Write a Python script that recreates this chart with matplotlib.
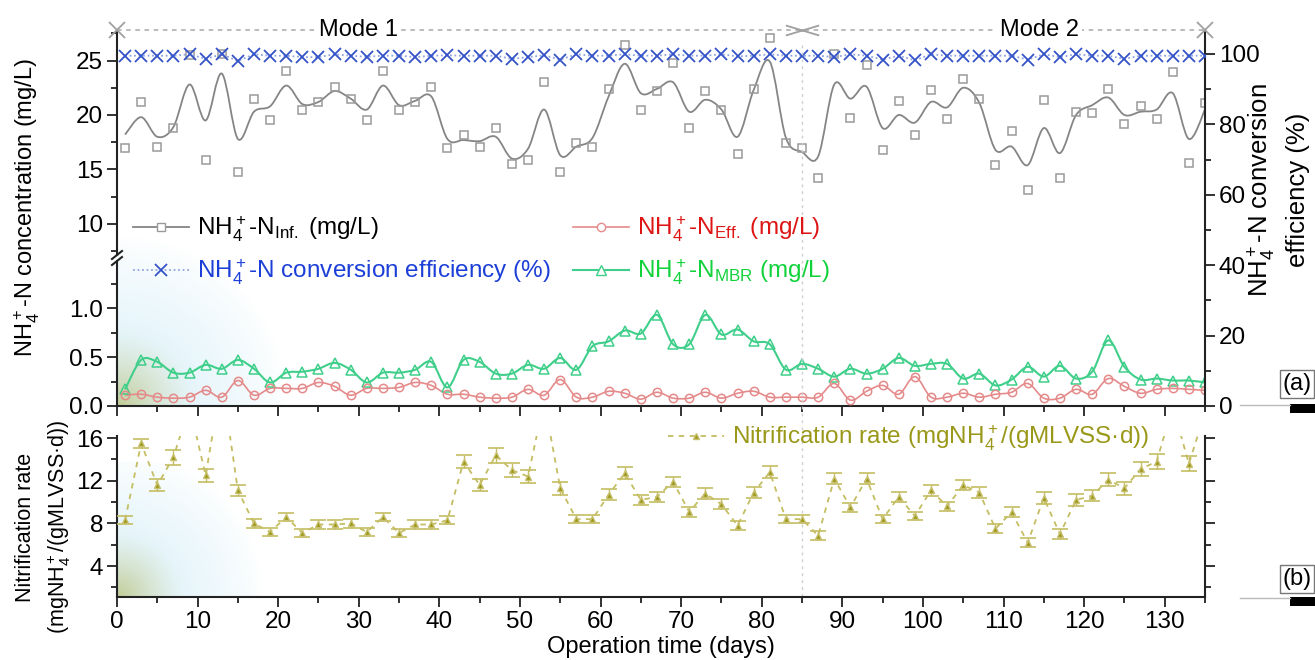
import numpy as np
import matplotlib
matplotlib.use("Agg")
import matplotlib.pyplot as plt
import matplotlib.transforms as mtransforms
from matplotlib.path import Path
from matplotlib.patches import PathPatch, Rectangle
from matplotlib.lines import Line2D
from matplotlib.ticker import MultipleLocator, FormatStrFormatter

plt.rcParams["font.family"] = ["Liberation Sans", "DejaVu Sans"]
plt.rcParams["mathtext.fontset"] = "custom"
plt.rcParams["mathtext.rm"] = "Liberation Sans"
plt.rcParams["mathtext.it"] = "Liberation Sans:italic"
plt.rcParams["mathtext.bf"] = "Liberation Sans:bold"
plt.rcParams["mathtext.default"] = "regular"

# ---- data, one sample every 2 days ----
days = list(range(1, 136, 2))

inf_points = [17.0, 21.2, 17.1, 18.8, 25.5, 15.9, 25.6, 14.8, 21.5, 19.5,
              24.0, 20.5, 21.2, 22.6, 21.5, 19.5, 24.0, 20.5, 21.2, 22.6,
              17.0, 18.2, 17.1, 18.8, 15.5, 15.9, 23.0, 14.8, 17.4, 17.1,
              22.4, 26.4, 20.5, 22.2, 24.8, 18.8, 22.2, 20.5, 16.4, 22.4,
              27.1, 17.4, 17.0, 14.2, 25.6, 19.7, 24.6, 16.8, 21.3, 18.2,
              22.3, 19.6, 23.3, 21.5, 15.4, 18.5, 13.1, 21.4, 14.2, 20.3,
              20.2, 22.4, 19.2, 20.8, 19.6, 23.9, 15.6, 21.1]

inf_fit = [18.2, 19.8, 18.0, 18.9, 22.8, 19.5, 23.8, 17.8, 20.3, 20.8,
           22.7, 21.0, 21.2, 22.2, 21.5, 20.5, 22.7, 20.9, 21.3, 21.7,
           17.8, 17.7, 17.6, 18.0, 16.0, 16.9, 20.5, 16.3, 17.1, 17.9,
           21.7, 24.7, 22.0, 22.4, 23.0, 20.3, 21.4, 20.5, 18.0, 22.3,
           24.9, 17.9, 16.6, 16.2, 22.8, 21.5, 22.6, 18.8, 20.0, 19.3,
           21.2, 20.7, 22.5, 21.1, 16.8, 17.1, 15.4, 18.8, 16.5, 20.0,
           20.9, 21.6, 20.0, 20.3, 20.5, 22.0, 17.8, 20.5]

conv_eff = [99.5, 99.5, 99.5, 99.5, 99.9, 98.6, 99.9, 98.0, 99.9, 99.5,
            99.5, 99.1, 99.1, 99.9, 99.5, 99.2, 99.5, 99.5, 99.1, 99.5,
            99.6, 99.5, 99.5, 99.5, 98.6, 99.1, 99.6, 98.4, 99.9, 99.5,
            99.5, 99.9, 99.5, 99.5, 99.9, 99.5, 99.5, 99.9, 99.3, 99.5,
            99.9, 99.5, 99.5, 99.5, 99.1, 99.9, 99.5, 98.4, 99.5, 98.2,
            99.9, 99.5, 99.5, 99.5, 99.5, 99.5, 98.4, 99.9, 99.1, 99.9,
            99.5, 99.5, 98.6, 99.5, 99.5, 99.5, 99.5, 99.5]

eff_points = [0.11, 0.12, 0.09, 0.08, 0.09, 0.16, 0.09, 0.26, 0.11, 0.18,
              0.18, 0.18, 0.24, 0.20, 0.11, 0.18, 0.18, 0.19, 0.24, 0.21,
              0.12, 0.12, 0.09, 0.08, 0.09, 0.17, 0.11, 0.27, 0.09, 0.09,
              0.15, 0.13, 0.07, 0.14, 0.08, 0.08, 0.14, 0.08, 0.13, 0.15,
              0.09, 0.09, 0.09, 0.09, 0.23, 0.06, 0.15, 0.21, 0.12, 0.30,
              0.09, 0.09, 0.13, 0.09, 0.12, 0.14, 0.23, 0.08, 0.08, 0.17,
              0.12, 0.28, 0.20, 0.13, 0.17, 0.18, 0.17, 0.16]

mbr_points = [0.17, 0.47, 0.45, 0.34, 0.34, 0.42, 0.38, 0.47, 0.38, 0.24,
              0.34, 0.35, 0.38, 0.44, 0.37, 0.24, 0.34, 0.34, 0.37, 0.45,
              0.19, 0.47, 0.45, 0.33, 0.33, 0.42, 0.38, 0.49, 0.37, 0.61,
              0.66, 0.77, 0.74, 0.93, 0.63, 0.63, 0.93, 0.73, 0.78, 0.66,
              0.63, 0.37, 0.43, 0.38, 0.30, 0.38, 0.33, 0.38, 0.49, 0.41,
              0.43, 0.43, 0.28, 0.33, 0.21, 0.27, 0.40, 0.30, 0.41, 0.28,
              0.35, 0.67, 0.40, 0.27, 0.28, 0.26, 0.26, 0.24]

nitr_rate = [8.3, 15.5, 11.6, 14.2, 19.0, 12.5, 21.5, 11.1, 8.0, 7.2,
             8.6, 7.1, 7.9, 7.9, 8.0, 7.2, 8.6, 7.1, 7.9, 7.9,
             8.3, 13.8, 11.6, 14.4, 13.0, 12.4, 19.5, 11.3, 8.4, 8.4,
             10.7, 12.7, 10.2, 10.5, 11.9, 9.1, 10.8, 9.8, 7.8, 10.9,
             12.8, 8.4, 8.4, 6.85, 12.2, 9.5, 12.2, 8.4, 10.5, 8.7,
             11.1, 9.6, 11.6, 10.9, 7.5, 9.05, 6.2, 10.4, 7.0, 10.2,
             10.6, 12.1, 11.3, 13.1, 13.8, 19.0, 13.6, 18.4]

nitr_err = [0.4, 0.4, 0.6, 0.7, 0.6, 0.63, 0.6, 0.55, 0.4, 0.4,
            0.4, 0.4, 0.4, 0.4, 0.4, 0.4, 0.4, 0.4, 0.4, 0.4,
            0.4, 0.63, 0.55, 0.7, 0.63, 0.63, 0.6, 0.6, 0.4, 0.4,
            0.5, 0.55, 0.45, 0.45, 0.5, 0.45, 0.5, 0.45, 0.4, 0.5,
            0.55, 0.4, 0.4, 0.4, 0.5, 0.45, 0.5, 0.4, 0.45, 0.4,
            0.5, 0.45, 0.5, 0.5, 0.4, 0.45, 0.4, 0.55, 0.45, 0.52,
            0.5, 0.63, 0.63, 0.63, 0.7, 0.7, 0.7, 0.7]

mode_edges = [0, 85, 135]
mode_labels = ["Mode 1", "Mode 2"]
mode_label_x = [30, 114.5]

# ---- figure in pixel units ----
W, H = 1315, 660
fig = plt.figure(figsize=(W / 100, H / 100), dpi=100)
px = mtransforms.Affine2D().scale(1 / W, -1 / H).translate(0, 1) + fig.transFigure


def box(l, t, r, b):
    return [l / W, 1 - b / H, (r - l) / W, (b - t) / H]


XL, XR = 117, 1205
ax_up = fig.add_axes(box(XL, 30, XR, 255))
ax_lo = fig.add_axes(box(XL, 261, XR, 406))
ax_r = fig.add_axes(box(XL, 30, XR, 406))
ax_b = fig.add_axes(box(XL, 436, XR, 597))

C_SPINE = "#222222"
RED = "#e58a8a"
GREEN = "#3fcf8a"
BLUE = "#3553c8"
BLUE_L = "#8fa3e0"
OLIVE = "#9a9818"
OLIVE_L = "#c4bd62"

for a in (ax_up, ax_lo, ax_r, ax_b):
    a.set_facecolor("none")
    a.set_xlim(0, 135)
    for s in a.spines.values():
        s.set_visible(False)
        s.set_linewidth(1.5)
        s.set_color(C_SPINE)
    a.tick_params(which="both", direction="out", width=1.3, color=C_SPINE,
                  labelsize=17.5, pad=3)
    a.tick_params(which="major", length=7)
    a.tick_params(which="minor", length=4)

# ---- background glows in the lower-left corners ----
def glow(wpx, hpx, radius):
    yy, xx = np.mgrid[0:hpx, 0:wpx]
    d = np.hypot(xx, (hpx - 1 - yy)) / radius
    t = np.clip(d / 0.45, 0, 1)[..., None]
    c0 = np.array([0.72, 0.77, 0.52])
    c1 = np.array([0.82, 0.93, 0.97])
    rgb = c0 * (1 - t) + c1 * t
    alpha = np.clip(1 - d, 0, 1) ** 0.8 * 0.85
    return np.dstack([rgb, alpha])

fig.figimage(glow(175, 175, 170), xo=XL + 1, yo=H - 406, zorder=-1)
fig.figimage(glow(155, 135, 145), xo=XL + 1, yo=H - 597, zorder=-1)

# ---- smooth line helper (Catmull-Rom drawn as Bezier path) ----
def smooth_line(ax, x, y, **kw):
    x = np.asarray(x, float)
    y = np.asarray(y, float)
    n = len(x)
    verts = [(x[0], y[0])]
    codes = [Path.MOVETO]
    for i in range(1, n):
        p0 = np.array([x[max(i - 2, 0)], y[max(i - 2, 0)]])
        p1 = np.array([x[i - 1], y[i - 1]])
        p2 = np.array([x[i], y[i]])
        p3 = np.array([x[min(i + 1, n - 1)], y[min(i + 1, n - 1)]])
        verts += [tuple(p1 + (p2 - p0) / 6), tuple(p2 - (p3 - p1) / 6), tuple(p2)]
        codes += [Path.CURVE4] * 3
    ax.add_patch(PathPatch(Path(verts, codes), fill=False, **kw))

# ---- upper part of top panel ----
ax_up.set_ylim(7.15, 27.8)
ax_up.spines["left"].set_visible(True)
ax_up.yaxis.set_major_locator(MultipleLocator(5))
ax_up.yaxis.set_minor_locator(MultipleLocator(2.5))
ax_up.set_xticks([])
smooth_line(ax_up, days, inf_fit, edgecolor="#858585", lw=1.3, zorder=3)
ax_up.plot(days, inf_points, ls="none", marker="s", ms=5.5, mfc="none",
           mec="#9a9a9a", mew=1.1, zorder=4)

# ---- lower part of top panel ----
ax_lo.set_ylim(0, 1.48)
ax_lo.spines["left"].set_visible(True)
ax_lo.spines["bottom"].set_visible(True)
ax_lo.yaxis.set_major_locator(MultipleLocator(0.5))
ax_lo.yaxis.set_minor_locator(MultipleLocator(0.25))
ax_lo.yaxis.set_major_formatter(FormatStrFormatter("%.1f"))
ax_lo.xaxis.set_major_locator(MultipleLocator(10))
ax_lo.xaxis.set_minor_locator(MultipleLocator(5))
ax_lo.tick_params(axis="x", labelbottom=False)
smooth_line(ax_lo, days, mbr_points, edgecolor=GREEN, lw=1.5, zorder=3)
ax_lo.plot(days, mbr_points, ls="none", marker="^", ms=7, mfc="none",
           mec=GREEN, mew=1.1, zorder=4)
smooth_line(ax_lo, days, eff_points, edgecolor=RED, lw=1.2, zorder=3)
ax_lo.plot(days, eff_points, ls="none", marker="o", ms=6, mfc="none",
           mec=RED, mew=1.1, zorder=4)

# break marks on the left spine
for yb in (255, 261):
    fig.add_artist(Line2D([XL - 5, XL + 5], [yb + 4, yb - 4], transform=px,
                          color=C_SPINE, lw=1.5))

# ---- right axis: conversion efficiency ----
ax_r.set_ylim(0, 106.8)
ax_r.spines["right"].set_visible(True)
ax_r.yaxis.tick_right()
ax_r.yaxis.set_major_locator(MultipleLocator(20))
ax_r.yaxis.set_minor_locator(MultipleLocator(10))
ax_r.set_xticks([])
ax_r.plot(days, conv_eff, ls=(0, (1, 1.5)), color=BLUE_L, lw=1.3, marker="x",
          ms=9, mec=BLUE, mew=1.3, zorder=5)
fig.text(1278 / W, 1 - 190 / H, "NH$_4^+$-N conversion\nefficiency (%)",
         rotation=90, ha="center", va="center", fontsize=18.5,
         linespacing=1.4, multialignment="center")

# mode bracket along the top
ytop = 106.8
ax_r.plot([mode_edges[0], mode_edges[-1]], [ytop, ytop], ls=(0, (3, 3)),
          color="#a8a8a8", lw=1.1, clip_on=False, zorder=2)
ax_r.plot([mode_edges[0], mode_edges[-1]], [ytop, ytop], ls="none",
          marker="x", ms=11, mec="#a0a0a0", mew=1.3, clip_on=False, zorder=6)
wide_x = Path([(-2, -0.6), (2, 0.6), (-2, 0.6), (2, -0.6)],
              [Path.MOVETO, Path.LINETO, Path.MOVETO, Path.LINETO])
ax_r.plot([mode_edges[1]], [ytop], ls="none", marker=wide_x, ms=24,
          mec="#a0a0a0", mew=1.3, clip_on=False, zorder=6)
for lab, xm in zip(mode_labels, mode_label_x):
    ax_r.text(xm, ytop, lab, ha="center", va="center", fontsize=17,
              bbox=dict(fc="white", ec="none", pad=2), zorder=7, clip_on=False)

# left label for the whole top panel
fig.text(27 / W, 1 - 208 / H, "NH$_4^+$-N concentration (mg/L)", rotation=90,
         ha="center", va="center", fontsize=17)

# legend of the top panel
handles = [
    Line2D([], [], color="#858585", lw=1.3, marker="s", ms=5.5, mfc="white",
           mec="#9a9a9a"),
    Line2D([], [], color=BLUE_L, lw=1.3, ls=(0, (1, 1.5)), marker="x", ms=9,
           mec=BLUE, mew=1.3),
    Line2D([], [], color=RED, lw=1.2, marker="o", ms=6, mfc="white", mec=RED),
    Line2D([], [], color=GREEN, lw=1.5, marker="^", ms=7, mfc="white", mec=GREEN),
]
labels = [
    "NH$_4^+$-N$_{Inf.}$ (mg/L)",
    "NH$_4^+$-N conversion efficiency (%)",
    "NH$_4^+$-N$_{Eff.}$ (mg/L)",
    "NH$_4^+$-N$_{MBR}$ (mg/L)",
]
fig.legend(handles, labels, ncol=2, loc="upper left",
           bbox_to_anchor=(133 / W, 1 - 215 / H), frameon=False,
           fontsize=17.5, handlelength=2.3, handletextpad=0.35,
           columnspacing=0.9, labelspacing=0.55, borderpad=0, borderaxespad=0,
           labelcolor=["black", "#1c3fd8", "#dd1515", "#12d23c"])

# ---- bottom panel: nitrification rate ----
ax_b.set_ylim(1.1, 16.2)
for s in ("left", "right", "bottom"):
    ax_b.spines[s].set_visible(True)
ax_b.yaxis.set_major_locator(MultipleLocator(4))
ax_b.yaxis.set_minor_locator(MultipleLocator(2))
ax_b.xaxis.set_major_locator(MultipleLocator(10))
ax_b.xaxis.set_minor_locator(MultipleLocator(5))
ax_b.tick_params(axis="y", which="both", right=True, labelright=False)
ax_b.plot(days, nitr_rate, ls=(0, (3, 3)), color=OLIVE_L, lw=1.3, zorder=2)
ax_b.errorbar(days, nitr_rate, yerr=nitr_err, fmt="^", ms=5, mfc=OLIVE,
              mec="#c8c070", ecolor=OLIVE_L, elinewidth=1.0, capsize=6,
              capthick=1.2, zorder=3)
ax_b.set_xlabel("Operation time (days)", fontsize=17, labelpad=2)
fig.text(44 / W, 1 - 527 / H, "Nitrification rate\n(mgNH$_4^+$/(gMLVSS·d))",
         rotation=90, ha="center", va="center", fontsize=15.5,
         linespacing=1.5, multialignment="center")
nitr_handle = Line2D([], [], color=OLIVE_L, lw=1.3, ls=(0, (3, 3)), marker="^",
                     ms=5, mfc=OLIVE, mec="#c8c070")
fig.legend([nitr_handle], ["Nitrification rate (mgNH$_4^+$/(gMLVSS·d))"],
           loc="center left", bbox_to_anchor=(668 / W, 1 - 438 / H),
           frameon=False, fontsize=17.5, handlelength=2.3, handletextpad=0.35,
           borderpad=0, borderaxespad=0, labelcolor=OLIVE)

# mode switch line across both panels
vtrans = mtransforms.blended_transform_factory(ax_b.transData, px)
ax_b.plot([mode_edges[1], mode_edges[1]], [45, 597], transform=vtrans,
          ls=(0, (2, 3)), color="#cfcfcf", lw=1.0, clip_on=False, zorder=1)

# panel tags at the right edge
for tag, yc, yb in (("(a)", 384, 405), ("(b)", 579, 598)):
    fig.text(1297 / W, 1 - yc / H, tag, ha="center", va="center", fontsize=17,
             bbox=dict(fc="white", ec="#777777", lw=1.0, pad=2))
    fig.add_artist(Line2D([1240, 1290], [yb, yb], transform=px,
                          color="#bbbbbb", lw=1.0))
    fig.add_artist(Rectangle((1290, yb - 1), 25, 9, transform=px,
                             fc="black", ec="none"))

fig.savefig("out.png", dpi=100)
